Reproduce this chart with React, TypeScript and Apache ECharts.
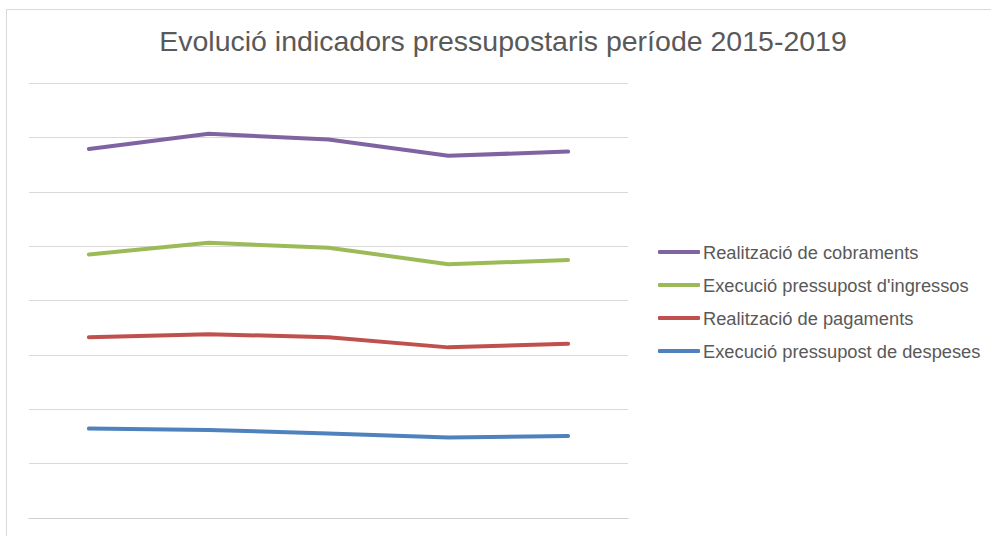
import React, { useEffect, useRef } from "react";
import * as echarts from "echarts";

const years = ["2015", "2016", "2017", "2018", "2019"];
// Excel stacked line chart: each series is stacked on the previous one
const despeses = [82.2, 81.0, 77.8, 74.1, 75.5];
const pagaments = [84.1, 88.0, 88.4, 82.8, 84.7];
const ingressos = [76.0, 84.0, 82.4, 76.4, 77.0];
const cobraments = [97.0, 100.3, 99.4, 99.8, 99.7];

const names = {
  cob: "Realització de cobraments",
  ing: "Execució pressupost d'ingressos",
  pag: "Realització de pagaments",
  des: "Execució pressupost de despeses",
};

const colors = {
  cob: "#8064A2",
  ing: "#9BBB59",
  pag: "#C0504D",
  des: "#4F81BD",
};

const FONT = "'Liberation Sans', Arial, sans-serif";

export default function App() {
  const ref = useRef<HTMLDivElement>(null);
  useEffect(() => {
    if (!ref.current) return;
    const chart = echarts.init(ref.current, undefined, { renderer: "svg" });
    const mk = (key: keyof typeof names, data: number[]) => ({
      name: names[key],
      type: "line",
      stack: "total",
      data,
      symbol: "none",
      smooth: false,
      lineStyle: { width: 4, color: colors[key], cap: "round", join: "round" },
      itemStyle: { color: colors[key] },
    });
    chart.setOption({
      animation: false,
      backgroundColor: "#ffffff",
      title: {
        text: "Evolució indicadors pressupostaris període 2015-2019",
        left: 498,
        top: 21,
        textAlign: "center",
        textStyle: {
          fontFamily: FONT,
          fontSize: 28.5,
          fontWeight: "normal",
          color: "#595959",
        },
      },
      graphic: [
        {
          type: "rect",
          shape: { x: 6.5, y: 9.5, width: 1100, height: 700 },
          style: { fill: "none", stroke: "#D9D9D9", lineWidth: 1 },
          silent: true,
        },
      ],
      legend: {
        orient: "vertical",
        left: 653,
        top: 237,
        itemWidth: 42,
        itemHeight: 4,
        itemGap: 13,
        icon: "roundRect",
        data: [names.cob, names.ing, names.pag, names.des],
        textStyle: {
          fontFamily: FONT,
          fontSize: 18.3,
          lineHeight: 20,
          color: "#595959",
          padding: [0, 0, 0, -2],
        },
      },
      grid: { left: 29, right: 363, top: 83, bottom: 18, containLabel: false },
      xAxis: {
        type: "category",
        data: years,
        boundaryGap: true,
        axisLine: { show: true, lineStyle: { color: "#D0D0D0", width: 1 } },
        axisTick: { show: false },
        axisLabel: { show: false },
      },
      yAxis: {
        type: "value",
        min: 0,
        max: 400,
        interval: 50,
        axisLine: { show: false },
        axisTick: { show: false },
        axisLabel: { show: false },
        splitLine: { lineStyle: { color: "#D9D9D9", width: 1 } },
      },
      series: [
        mk("des", despeses),
        mk("pag", pagaments),
        mk("ing", ingressos),
        mk("cob", cobraments),
      ],
    });
    return () => chart.dispose();
  }, []);
  return (
    <div
      ref={ref}
      style={{ position: "absolute", left: 0, top: 0, width: 991, height: 536 }}
    />
  );
}
